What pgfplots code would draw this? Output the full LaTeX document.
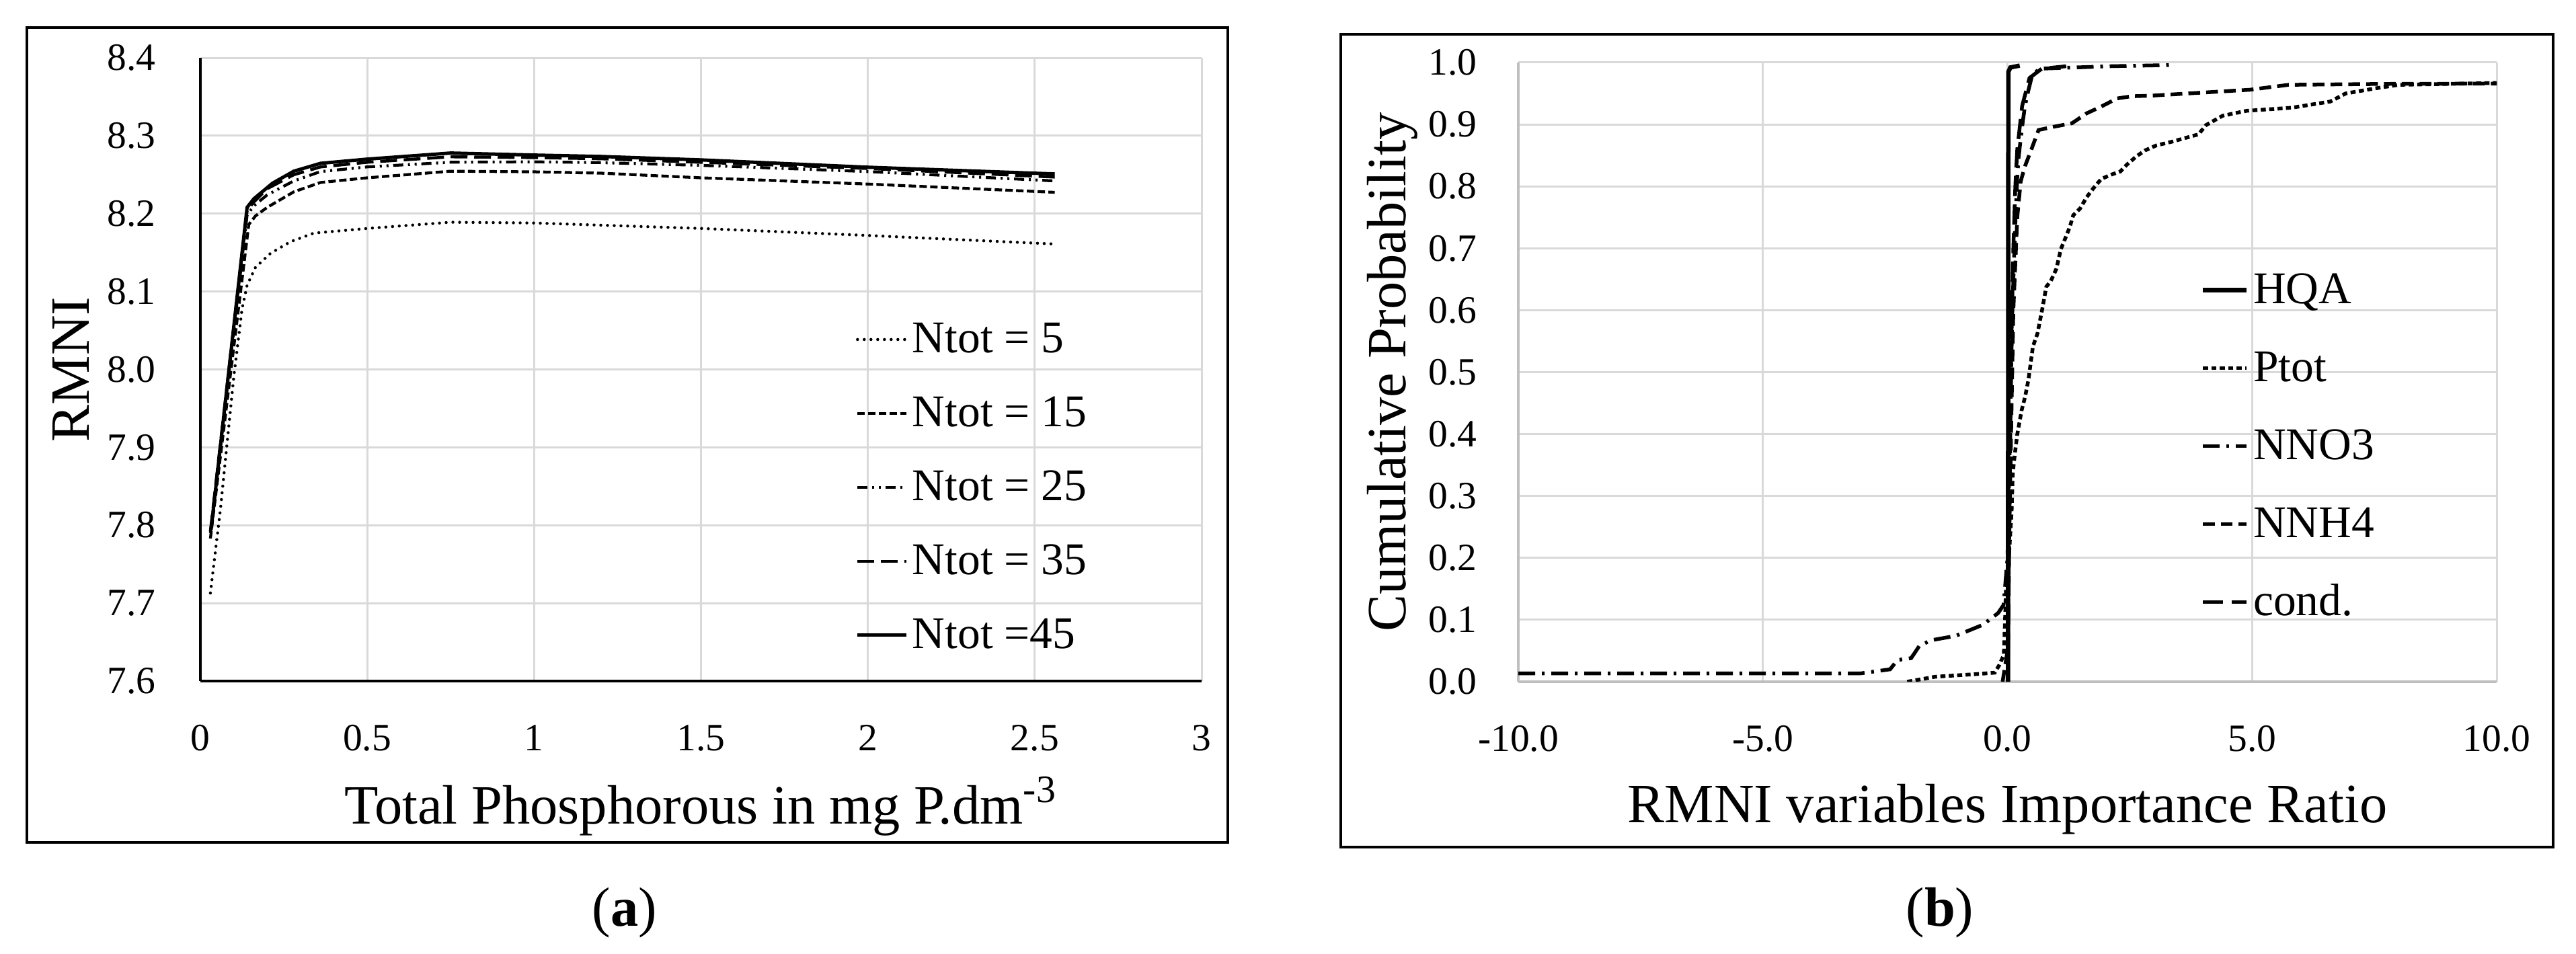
\documentclass[border=0pt]{standalone}
\usepackage{pgfplots}
\pgfplotsset{compat=1.18}
\usepackage{fontspec}
\setmainfont{Liberation Serif}

\definecolor{gridgray}{HTML}{D9D9D9}
\definecolor{axgray}{HTML}{BFBFBF}

\newcommand{\ticksize}{\rmfamily\fontsize{11.5}{13}\selectfont}
\newcommand{\labsize}{\rmfamily\fontsize{16.5}{18}\selectfont}
\newcommand{\legsize}{\rmfamily\fontsize{13.5}{15}\selectfont}

\pgfplotsset{
  excel/.style={
    scale only axis,
    anchor=south west,
    axis line style={line width=0.66pt},
    grid=major,
    major grid style={gridgray, line width=0.6pt},
    tick style={draw=none},
    ticklabel style={font=\ticksize},
    xticklabel style={yshift=-9.5pt},
    yticklabel style={xshift=-9.8pt},
    label style={font=\labsize},
    legend style={draw=none, fill=none, font=\legsize, inner sep=0pt,
      column sep=1.3pt, anchor=north west,
      nodes={inner sep=0pt, text height=9.5pt, text depth=1.5pt}},
    legend cell align=left,
    /pgf/number format/assume math mode=true,
  }
}

\begin{document}
\begin{tikzpicture}
\useasboundingbox (0,0) rectangle (766.2pt,283.8pt);
\draw[line width=0.7pt] (8pt,33.2pt) rectangle (365.2pt,275.6pt);
\draw[line width=0.7pt] (398.8pt,31.8pt) rectangle (759.4pt,273.6pt);

% (a) RMNI against total phosphorous
\begin{axis}[excel,
  at={(59.6pt,81.2pt)}, width=297.8pt, height=185.4pt,
  axis x line*=bottom, axis y line*=left,
  xmin=0, xmax=3, ymin=7.6, ymax=8.4,
  xtick={0,0.5,1,1.5,2,2.5,3}, xticklabels={0,0.5,1,1.5,2,2.5,3},
  ytick={7.6,7.7,7.8,7.9,8.0,8.1,8.2,8.3,8.4},
  yticklabels={7.6,7.7,7.8,7.9,8.0,8.1,8.2,8.3,8.4},
  xlabel={Total Phosphorous in mg P.dm\textsuperscript{-3}},
  ylabel={RMNI},
  xlabel style={at={(axis description cs:0.5,-0.201)}, anchor=center},
  ylabel style={at={(axis description cs:-0.129,0.5)}, anchor=center},
  legend style={at={(0.654,0.5788)}, row sep=11pt},
  legend image code/.code={\draw[#1] (0pt,0pt) -- (14.5pt,0pt);},
]
\addplot[black, line width=0.9pt, line cap=round, dash pattern=on 0pt off 2pt] coordinates {
  (0.03,7.713)(0.06,7.82)(0.10,7.99)(0.125,8.078)(0.14,8.108)(0.165,8.131)
  (0.21,8.149)(0.27,8.164)(0.34,8.175)(0.5,8.181)(0.75,8.189)(1.0,8.188)
  (1.5,8.181)(2.0,8.172)(2.56,8.161)};
\addlegendentry{Ntot = 5}
\addplot[black, line width=0.85pt, dash pattern=on 2.2pt off 1pt] coordinates {
  (0.03,7.783)(0.145,8.186)(0.165,8.197)(0.2,8.208)(0.28,8.228)(0.36,8.240)
  (0.5,8.246)(0.75,8.2545)(1.0,8.2537)(1.2,8.252)(1.5,8.246)(2.0,8.238)(2.56,8.2274)};
\addlegendentry{Ntot = 15}
\addplot[black, line width=0.85pt, dash pattern=on 3pt off 1.4pt on 0.6pt off 1.4pt on 0.6pt off 1.4pt] coordinates {
  (0.03,7.79)(0.14,8.198)(0.16,8.21)(0.2,8.224)(0.28,8.242)(0.36,8.254)
  (0.5,8.26)(0.75,8.266)(1.0,8.2665)(1.2,8.2655)(1.5,8.262)(2.0,8.254)(2.56,8.242)};
\addlegendentry{Ntot = 25}
\addplot[black, line width=0.9pt, dash pattern=on 5pt off 2pt] coordinates {
  (0.03,7.792)(0.14,8.204)(0.16,8.215)(0.2,8.232)(0.28,8.25)(0.36,8.26)
  (0.5,8.266)(0.75,8.273)(1.0,8.272)(1.2,8.2705)(1.5,8.266)(2.0,8.258)(2.56,8.247)};
\addlegendentry{Ntot = 35}
\addplot[black, line width=1pt] coordinates {
  (0.032,7.794)(0.14,8.208)(0.16,8.219)(0.216,8.239)(0.28,8.2545)(0.36,8.2646)
  (0.5,8.27)(0.75,8.2778)(1.0,8.2752)(1.2,8.2734)(1.5,8.269)(2.0,8.2596)(2.56,8.251)};
\addlegendentry{Ntot =45}
\end{axis}

% (b) cumulative probability of importance ratios
\begin{axis}[excel,
  at={(451.6pt,81pt)}, width=291pt, height=184.2pt,
  axis x line*=bottom, axis y line*=left,
  axis line style={axgray, line width=0.66pt},
  xmin=-10, xmax=10, ymin=0, ymax=1,
  xtick={-10,-5,0,5,10}, xticklabels={-10.0,-5.0,0.0,5.0,10.0},
  ytick={0,0.1,0.2,0.3,0.4,0.5,0.6,0.7,0.8,0.9,1},
  yticklabels={0.0,0.1,0.2,0.3,0.4,0.5,0.6,0.7,0.8,0.9,1.0},
  yticklabel style={xshift=1pt},
  xlabel={RMNI variables Importance Ratio},
  ylabel={Cumulative Probability},
  xlabel style={at={(axis description cs:0.5,-0.206)}, anchor=center},
  ylabel style={at={(axis description cs:-0.129,0.5)}, anchor=center},
  legend style={at={(0.697,0.6633)}, row sep=12.2pt},
  legend image code/.code={\draw[#1] (0pt,0pt) -- (13pt,0pt);},
]
\addplot[black, line width=1.3pt] coordinates {
  (0.012,0.0)(0.014,0.5)(0.018,0.985)(0.06,0.992)(0.25,0.995)};
\addlegendentry{HQA}
\addplot[black, line width=1.1pt, dash pattern=on 1.5pt off 1pt] coordinates {
  (-2.05,0.0)(-1.48,0.008)(-0.58,0.0126)(-0.26,0.0146)(-0.167,0.027)(-0.076,0.043)
  (-0.053,0.092)(-0.03,0.153)(0.039,0.215)(0.085,0.276)(0.108,0.337)(0.154,0.37)
  (0.199,0.399)(0.291,0.439)(0.36,0.46)(0.429,0.488)(0.52,0.5415)(0.612,0.562)
  (0.704,0.599)(0.794,0.638)(0.885,0.647)(1.0,0.667)(1.093,0.699)(1.207,0.721)
  (1.276,0.735)(1.345,0.7535)(1.482,0.764)(1.619,0.7825)(1.757,0.797)(1.918,0.812)
  (2.124,0.819)(2.307,0.824)(2.44,0.835)(2.628,0.848)(2.81,0.858)(3.04,0.866)
  (3.354,0.872)(3.905,0.884)(4.06,0.899)(4.397,0.914)(4.886,0.922)(5.81,0.927)
  (6.6,0.937)(6.913,0.95)(7.5,0.958)(8.0,0.964)(10,0.967)};
\addlegendentry{Ptot}
\addplot[black, line width=1.1pt, dash pattern=on 5pt off 2pt on 0.8pt off 2pt] coordinates {
  (-10,0.0135)(-3.0,0.0135)(-2.4,0.02)(-2.25,0.035)(-1.97,0.038)(-1.8,0.058)
  (-1.56,0.067)(-1.06,0.074)(-0.5,0.092)(-0.19,0.111)(-0.08,0.124)(0.0,0.2)
  (0.05,0.4)(0.1,0.6)(0.15,0.72)(0.18,0.779)(0.2,0.815)(0.224,0.844)(0.27,0.877)
  (0.315,0.906)(0.36,0.931)(0.43,0.956)(0.5,0.978)(0.65,0.99)(2.1,0.994)(3.38,0.996)};
\addlegendentry{NNO3}
\addplot[black, line width=1.1pt, dash pattern=on 3.5pt off 1.8pt] coordinates {
  (-0.1,0.0)(0.0,0.05)(0.05,0.3)(0.12,0.6)(0.2,0.75)(0.27,0.808)(0.36,0.833)
  (0.5,0.862)(0.635,0.891)(0.93,0.896)(1.32,0.902)(1.62,0.918)(1.92,0.929)
  (2.24,0.942)(2.54,0.9455)(2.95,0.9465)(4.95,0.956)(5.75,0.964)(7.76,0.9655)(10,0.966)};
\addlegendentry{NNH4}
\addplot[black, line width=1.1pt, dash pattern=on 6pt off 2.5pt] coordinates {
  (0.0,0.0)(0.02,0.1)(0.05,0.35)(0.08,0.55)(0.12,0.7)(0.16,0.8)(0.2,0.86)
  (0.3,0.93)(0.45,0.975)(0.7,0.99)(1.2,0.994)};
\addlegendentry{cond.}
\end{axis}

\node[font=\labsize] at (185.8pt,12.2pt) {(\textbf{a})};
\node[font=\labsize] at (577pt,12.2pt) {(\textbf{b})};
\end{tikzpicture}
\end{document}
